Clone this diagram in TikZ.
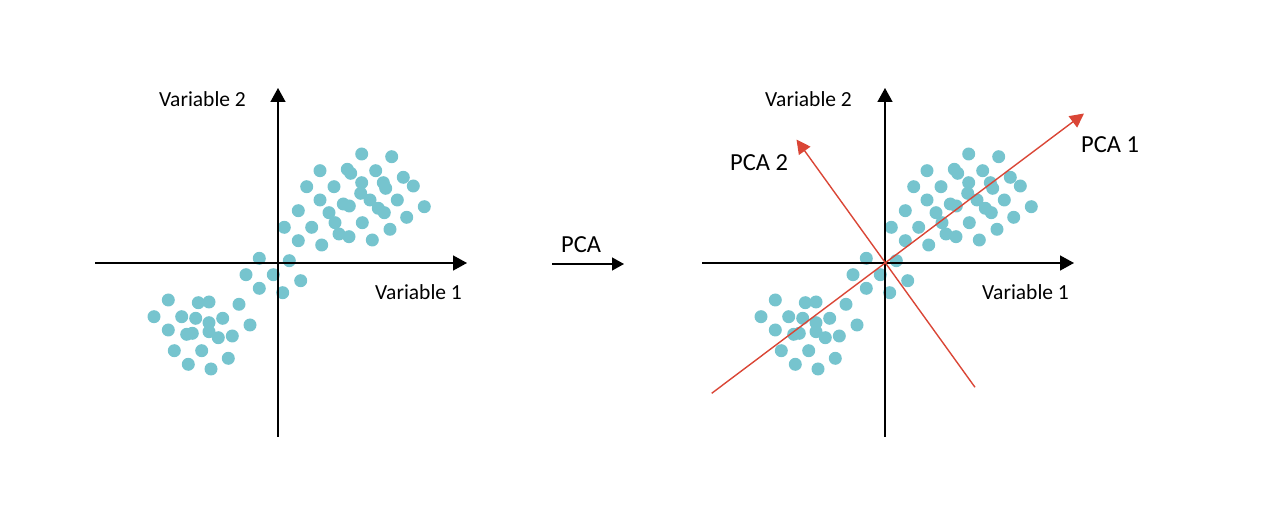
\documentclass[tikz,border=0pt]{standalone}
\usepackage{fontspec}
\setmainfont{Carlito}
\usetikzlibrary{arrows.meta}
\definecolor{dotteal}{HTML}{76C4CE}
\definecolor{pcared}{HTML}{DA4636}
\tikzset{
    axis/.style={line width=1.5pt,-{Triangle[length=14pt,width=15pt]}},
    pcaaxis/.style={pcared,line width=1.4pt,-{Triangle[length=14pt,width=14pt]}},
    dot/.style={fill=dotteal},
    lbl/.style={font=\fontsize{21.5}{24}\selectfont,inner sep=0pt,anchor=base west},
    pcalbl/.style={lbl,font=\fontsize{24.5}{28}\selectfont}
}
\def\Cloud{
    \foreach \px/\py in {361.7/154,391.7/156.7,320/170.7,347.3/169.3,350.7/173.3,375.7/170.7,
        403.3/177.3,306.7/186.7,334/186.7,361.7/182.7,383.3/182.7,385.7/188.3,413.3/186,
        320/200,360.7/193.3,370/200,397.3/200,424.3/206.7,298.3/210.7,343.3/204,349.3/206,
        329/212.7,378.3/208.3,384.3/212.7,406.7/217.3,284.3/227.3,311.7/227.3,335/222.7,
        362.3/222.7,390/229.3,298.3/240.7,321.7/245,339/234,349/236.7,372.3/240,
        259.3/258.3,289.3/260.7,246/274.7,273.3/274.7,300.7/280.7,259.3/288.3,282.7/292.7,
        168.3/300,198.3/302.7,209/302,239/304.3,154/316.7,181.7/316.7,195.7/318.3,
        222.7/318.3,209/322.7,250/325,168.3/330,186.7/334.3,192.3/333.3,209/331.7,
        218.3/337.7,232.3/336,174.3/350.7,201.7/350.7,228.3/358.3,188.3/364.3,211/369}
        \fill[dot] (\px,\py) circle (6.5pt);
}

\begin{document}
\begin{tikzpicture}[x=1pt,y=-1pt]
    \useasboundingbox (0,0) rectangle (1262,526);

    % before
    \Cloud
    \coordinate (o1) at (278,263);
    \coordinate (x1l) at (95,263);
    \coordinate (x1r) at (467,263);
    \coordinate (y1b) at (278,437);
    \coordinate (y1t) at (278,88);
    \draw[axis] (x1l) -- (x1r);
    \draw[axis] (y1b) -- (y1t);
    \node[lbl] (var2a) at (159,107) {Variable 2};
    \node[lbl] (var1a) at (375,300) {Variable 1};

    % transform
    \coordinate (pcal) at (552,264);
    \coordinate (pcar) at (624,264);
    \draw[line width=1.3pt,-{Triangle[length=12pt,width=13pt]}] (pcal) -- (pcar);
    \node[pcalbl] (pca) at (561,253) {PCA};

    % after
    \begin{scope}[shift={(607,0)}]
        \Cloud
    \end{scope}
    \coordinate (o2) at (885,263);
    \coordinate (x2l) at (702,263);
    \coordinate (x2r) at (1074,263);
    \coordinate (y2b) at (885,437);
    \coordinate (y2t) at (885,88);
    \draw[axis] (x2l) -- (x2r);
    \draw[axis] (y2b) -- (y2t);
    \node[lbl] (var2b) at (765,107) {Variable 2};
    \node[lbl] (var1b) at (982,300) {Variable 1};

    \coordinate (p1s) at (711.7,393.3);
    \coordinate (p1e) at (1084,113.5);
    \coordinate (p2s) at (975,387.3);
    \coordinate (p2e) at (796.5,139.5);
    \draw[pcaaxis] (p1s) -- (p1e);
    \draw[pcaaxis] (p2s) -- (p2e);
    \node[pcalbl] (pc1) at (1081,153) {PCA 1};
    \node[pcalbl] (pc2) at (730,171) {PCA 2};
\end{tikzpicture}
\end{document}
